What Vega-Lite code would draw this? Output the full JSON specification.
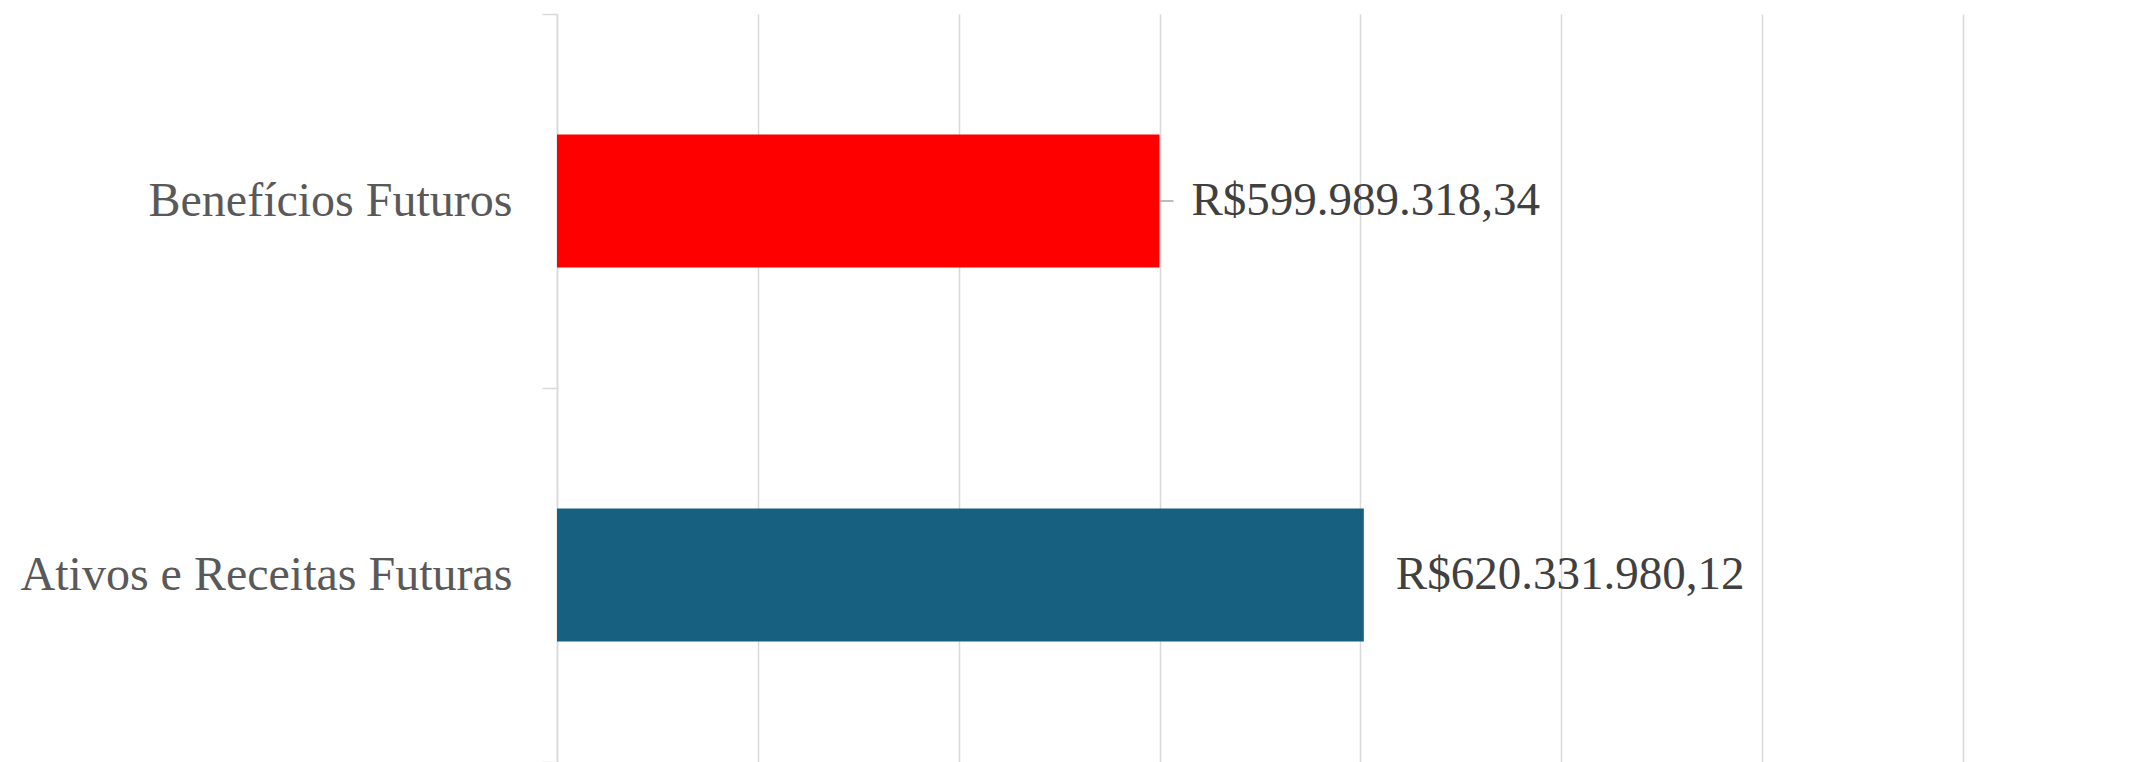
{
  "$schema": "https://vega.github.io/schema/vega-lite/v6.json",
  "width": 1594,
  "height": 748,
  "autosize": {"type": "none"},
  "padding": {"left": 557, "top": 14, "right": 0, "bottom": 0},
  "background": "white",
  "config": {"view": {"stroke": null}},
  "data": {
    "values": [
      {"categoria": "Benefícios Futuros", "valor": 599989318.34, "rotulo": "R$599.989.318,34", "cor": "#FF0000", "lider": true},
      {"categoria": "Ativos e Receitas Futuras", "valor": 620331980.12, "rotulo": "R$620.331.980,12", "cor": "#17607F", "lider": false}
    ]
  },
  "encoding": {
    "y": {
      "field": "categoria",
      "type": "nominal",
      "sort": ["Benefícios Futuros", "Ativos e Receitas Futuras"],
      "scale": {"paddingInner": 0, "paddingOuter": 0},
      "axis": {
        "title": null,
        "tickBand": "extent",
        "domainColor": "#D9D9D9",
        "domainWidth": 1.5,
        "tickColor": "#D9D9D9",
        "tickWidth": 1.5,
        "tickSize": 15,
        "labelFont": "Liberation Serif",
        "labelFontSize": 48,
        "labelColor": "#595959",
        "labelPadding": 30,
        "labelLimit": 600,
        "grid": false
      }
    }
  },
  "layer": [
    {
      "mark": {"type": "bar", "height": {"band": 0.356}},
      "encoding": {
        "x": {
          "field": "valor",
          "type": "quantitative",
          "scale": {"domain": [540000000, 698710000], "nice": false, "zero": false},
          "axis": {
            "title": null,
            "labels": false,
            "ticks": false,
            "domain": false,
            "grid": true,
            "gridColor": "#D9D9D9",
            "gridWidth": 1.5,
            "values": [540000000, 560000000, 580000000, 600000000, 620000000, 640000000, 660000000, 680000000]
          }
        },
        "x2": {"datum": 540000000},
        "color": {"field": "cor", "type": "nominal", "scale": null}
      }
    },
    {
      "transform": [{"filter": "datum.lider"}],
      "mark": {"type": "rule", "color": "#A6A6A6", "strokeWidth": 1.5, "x2Offset": 14},
      "encoding": {
        "x": {"field": "valor", "type": "quantitative"},
        "x2": {"field": "valor"}
      }
    },
    {
      "mark": {"type": "text", "align": "left", "baseline": "middle", "dx": 32, "font": "Liberation Serif", "fontSize": 47, "color": "#404040"},
      "encoding": {
        "x": {"field": "valor", "type": "quantitative"},
        "text": {"field": "rotulo"}
      }
    }
  ]
}
